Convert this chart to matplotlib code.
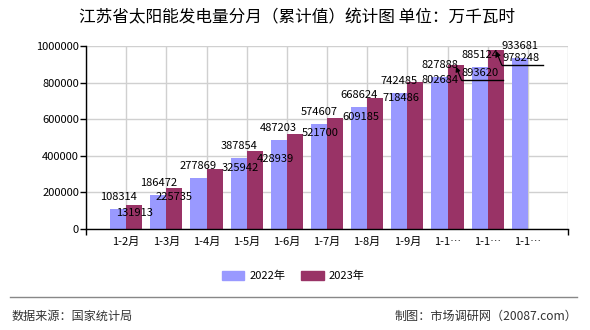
import numpy as np
import matplotlib
matplotlib.use("Agg")
import matplotlib.pyplot as plt
from matplotlib.lines import Line2D
from matplotlib.patches import Patch
from matplotlib.transforms import IdentityTransform

plt.rcParams['font.family'] = ['Noto Sans CJK SC', 'DejaVu Sans']

# 江苏省太阳能发电量（累计值，万千瓦时）
categories = ['1-2月', '1-3月', '1-4月', '1-5月', '1-6月', '1-7月',
              '1-8月', '1-9月', '1-10月', '1-11月', '1-12月']
values_2022 = [108314, 186472, 277869, 387854, 487203, 574607,
               668624, 742485, 827888, 885124, 933681]
values_2023 = [131913, 225735, 325942, 428939, 521700, 609185,
               718486, 802684, 893620, 978248]
series_names = ['2022年', '2023年']
yticks = [0, 200000, 400000, 600000, 800000, 1000000]

# label placement for the 2023 series, pixel offsets from the bar top
# (dx, dy, leader line)
offsets_2023 = [(0, -8, False), (0, -9, False), (26, 1, False), (21, -8, False),
                (25, 1, False), (26, 1, False), (26, 0, False), (25, 2, False),
                (25, -8, True), (25, -8, True)]

c22 = '#9999FF'
c23 = '#993366'

fig = plt.figure(figsize=(5.9, 3.3), dpi=100)
ax = fig.add_axes([86 / 590, 1 - 229 / 330, 482 / 590, 183 / 330])

x = np.arange(1, len(categories) + 1)
w = 0.4
ax.bar(x - w / 2, values_2022, width=w, color=c22, zorder=2)
ax.bar(x[:len(values_2023)] + w / 2, values_2023, width=w, color=c23, zorder=2)

n_slots = len(categories) + 1
ax.set_xlim(0, n_slots)
ax.set_ylim(0, 1000000)

# grid on category boundaries
for xb in range(n_slots + 1):
    ax.axvline(xb, color='#d0d0d0', lw=1, zorder=0)
ax.grid(True, which='major', axis='y', color='#d0d0d0', lw=1, zorder=0)

short = [c if len(c) <= 4 else c[:3] + '…' for c in categories]
ax.set_xticks(x)
ax.set_xticklabels(short, fontsize=8)
ax.tick_params(axis='x', which='major', length=0, pad=6)
ax.set_xticks([0, n_slots], minor=True)
ax.tick_params(axis='x', which='minor', length=4, width=1, direction='out')
ax.set_yticks(yticks)
ax.set_yticklabels([str(v) for v in yticks], fontsize=8)
ax.tick_params(axis='y', length=4, width=1, pad=1)

for s in ['top', 'right']:
    ax.spines[s].set_visible(False)
for s in ['left', 'bottom']:
    ax.spines[s].set_color('black')
    ax.spines[s].set_linewidth(1)
    ax.spines[s].set_zorder(3)

for xi, v in zip(x, values_2022):
    ax.annotate(str(v), (xi - w / 2, v), xytext=(0, 12), textcoords='offset pixels',
                ha='center', va='center', fontsize=8, zorder=4)


def to_px(xd, yd, dx, dy):
    bx, by = ax.transData.transform((xd, yd))
    return bx + dx, by + dy


for xi, v, (dx, dy, leader) in zip(x, values_2023, offsets_2023):
    xb = xi + w / 2
    ax.annotate(str(v), (xb, v), xytext=(dx, dy), textcoords='offset pixels',
                ha='center', va='center', fontsize=8, zorder=4)
    if leader:
        ax.annotate('', (xb, v), xytext=(6, -15), textcoords='offset pixels',
                    arrowprops=dict(arrowstyle='-|>', color='black', lw=0.8,
                                    shrinkA=0, shrinkB=1, mutation_scale=7),
                    zorder=4)
        p0 = to_px(xb, v, 6, -15)
        p1 = to_px(xb, v, 47, -15)
        fig.add_artist(Line2D([p0[0], p1[0]], [p0[1], p1[1]], color='black',
                              lw=1, transform=IdentityTransform()))

fig.text(0.504, 0.945, '江苏省太阳能发电量分月（累计值）统计图 单位：万千瓦时',
         ha='center', va='center', fontsize=12)

handles = [Patch(color=c22), Patch(color=c23)]
fig.legend(handles, series_names, loc='center', bbox_to_anchor=(0.497, 1 - 276 / 330),
           ncol=2, frameon=False, fontsize=8, handlelength=2.0, handleheight=0.9,
           handletextpad=0.45, columnspacing=1.45)

fig.add_artist(Line2D([10 / 590, 577 / 590], [1 - 297 / 330] * 2, color='#888888', lw=1))
fig.text(12 / 590, 1 - 316 / 330, '数据来源：国家统计局', ha='left', va='center',
         fontsize=8.7, color='#333333')
fig.text(577 / 590, 1 - 316 / 330, '制图：市场调研网（20087.com）', ha='right', va='center',
         fontsize=8.7, color='#333333')

fig.savefig('out.png', dpi=100)
